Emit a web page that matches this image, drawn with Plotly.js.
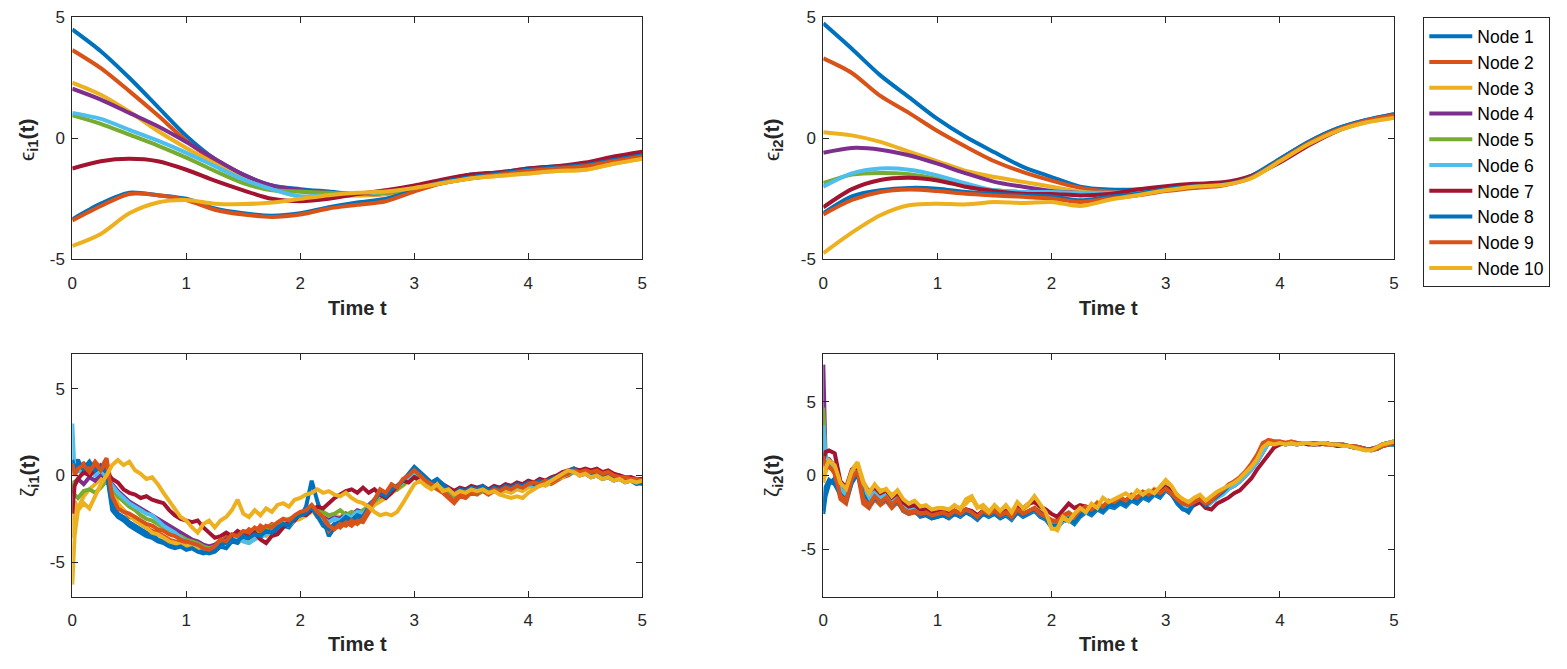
<!DOCTYPE html>
<html>
<head>
<meta charset="utf-8">
<script src="https://cdn.plot.ly/plotly-3.0.1.min.js"></script>
<style>html,body{margin:0;padding:0;background:#fff;}#chart{width:1567px;height:669px;}</style>
</head>
<body>
<div id="chart"></div>
<script>
// ---------------- data ----------------
const nodeNames = ['Node 1','Node 2','Node 3','Node 4','Node 5','Node 6','Node 7','Node 8','Node 9','Node 10'];
const nodeColors = ['#0072BD','#D95319','#EDB120','#7E2F8E','#77AC30','#4DBEEE','#A2142F','#0072BD','#D95319','#EDB120'];

// smooth states, sampled every 0.25
const tSmooth = [0,0.25,0.5,0.75,1,1.25,1.5,1.75,2,2.25,2.5,2.75,3,3.25,3.5,3.75,4,4.25,4.5,4.75,5];

// epsilon_i1(t)
const eps1 = [
 [4.5,3.6,2.5,1.3,0.1,-0.85,-1.5,-1.95,-2.1,-2.2,-2.3,-2.2,-2.0,-1.75,-1.5,-1.4,-1.25,-1.15,-1.1,-0.9,-0.65],
 [3.65,2.9,1.95,0.95,-0.1,-0.95,-1.6,-2.05,-2.2,-2.3,-2.35,-2.3,-2.1,-1.8,-1.6,-1.5,-1.35,-1.25,-1.15,-0.95,-0.75],
 [2.3,1.8,1.1,0.3,-0.4,-1.05,-1.65,-2.1,-2.4,-2.4,-2.35,-2.3,-2.1,-1.85,-1.65,-1.55,-1.45,-1.35,-1.3,-1.05,-0.85],
 [2.05,1.6,1.05,0.5,-0.15,-0.85,-1.5,-1.95,-2.15,-2.25,-2.3,-2.25,-2.05,-1.8,-1.6,-1.5,-1.35,-1.25,-1.15,-0.95,-0.75],
 [0.95,0.6,0.15,-0.3,-0.8,-1.35,-1.85,-2.15,-2.2,-2.25,-2.3,-2.25,-2.1,-1.85,-1.65,-1.5,-1.4,-1.3,-1.2,-1.0,-0.8],
 [1.05,0.8,0.35,-0.1,-0.6,-1.15,-1.7,-2.1,-2.4,-2.35,-2.3,-2.2,-2.0,-1.75,-1.55,-1.45,-1.3,-1.2,-1.15,-0.95,-0.8],
 [-1.25,-0.95,-0.85,-0.95,-1.3,-1.75,-2.15,-2.5,-2.6,-2.5,-2.3,-2.15,-1.95,-1.7,-1.5,-1.4,-1.25,-1.15,-1.0,-0.75,-0.55],
 [-3.35,-2.7,-2.25,-2.35,-2.5,-2.9,-3.1,-3.2,-3.1,-2.85,-2.65,-2.5,-2.15,-1.8,-1.6,-1.45,-1.3,-1.2,-1.1,-0.9,-0.7],
 [-3.4,-2.8,-2.3,-2.35,-2.55,-2.95,-3.15,-3.25,-3.15,-2.9,-2.75,-2.6,-2.2,-1.85,-1.65,-1.5,-1.35,-1.25,-1.15,-0.95,-0.75],
 [-4.45,-3.95,-3.1,-2.65,-2.55,-2.7,-2.72,-2.65,-2.5,-2.35,-2.25,-2.2,-2.05,-1.85,-1.65,-1.55,-1.45,-1.35,-1.3,-1.05,-0.85]
];

// epsilon_i2(t)
const eps2 = [
 [4.75,3.7,2.6,1.7,0.8,0.05,-0.58,-1.18,-1.6,-2.0,-2.12,-2.12,-2.05,-1.95,-1.88,-1.55,-0.85,-0.15,0.4,0.75,1.0],
 [3.3,2.7,1.75,1.05,0.3,-0.35,-0.95,-1.4,-1.75,-2.05,-2.2,-2.22,-2.12,-1.98,-1.92,-1.6,-0.9,-0.2,0.35,0.7,0.95],
 [0.25,0.12,-0.15,-0.55,-0.95,-1.35,-1.6,-1.8,-2.0,-2.2,-2.3,-2.25,-2.1,-1.98,-1.92,-1.65,-0.95,-0.25,0.3,0.65,0.85],
 [-0.6,-0.4,-0.47,-0.7,-1.05,-1.45,-1.8,-2.0,-2.18,-2.26,-2.26,-2.2,-2.08,-1.95,-1.9,-1.6,-0.9,-0.2,0.35,0.7,0.9],
 [-1.85,-1.5,-1.43,-1.48,-1.67,-2.0,-2.15,-2.22,-2.26,-2.28,-2.26,-2.2,-2.08,-1.95,-1.9,-1.6,-0.9,-0.2,0.35,0.7,0.9],
 [-2.0,-1.45,-1.25,-1.3,-1.53,-1.87,-2.15,-2.22,-2.22,-2.25,-2.25,-2.2,-2.08,-1.95,-1.9,-1.6,-0.9,-0.2,0.35,0.7,0.9],
 [-2.85,-2.1,-1.72,-1.63,-1.74,-2.0,-2.18,-2.29,-2.3,-2.36,-2.3,-2.12,-1.98,-1.88,-1.82,-1.55,-1.0,-0.3,0.3,0.7,0.98],
 [-3.1,-2.4,-2.15,-2.05,-2.08,-2.22,-2.29,-2.36,-2.4,-2.56,-2.42,-2.3,-2.1,-1.98,-1.92,-1.6,-0.85,-0.15,0.4,0.75,1.0],
 [-3.15,-2.55,-2.22,-2.12,-2.18,-2.29,-2.36,-2.42,-2.49,-2.63,-2.49,-2.36,-2.18,-2.05,-1.95,-1.62,-0.92,-0.2,0.35,0.72,0.95],
 [-4.75,-3.9,-3.18,-2.77,-2.7,-2.73,-2.63,-2.67,-2.63,-2.8,-2.55,-2.35,-2.15,-2.0,-1.93,-1.65,-0.95,-0.25,0.3,0.65,0.85]
];

// noisy states, sampled at t = 0, 0.02, then every 0.05
const tNoisy = [0,0.02,
 0.05,0.1,0.15,0.2,0.25,0.3,0.35,0.4,0.45,0.5,
 0.55,0.6,0.65,0.7,0.75,0.8,0.85,0.9,0.95,1.0,
 1.05,1.1,1.15,1.2,1.25,1.3,1.35,1.4,1.45,1.5,
 1.55,1.6,1.65,1.7,1.75,1.8,1.85,1.9,1.95,2.0,
 2.05,2.1,2.15,2.2,2.25,2.3,2.35,2.4,2.45,2.5,
 2.55,2.6,2.65,2.7,2.75,2.8,2.85,2.9,2.95,3.0,
 3.05,3.1,3.15,3.2,3.25,3.3,3.35,3.4,3.45,3.5,
 3.55,3.6,3.65,3.7,3.75,3.8,3.85,3.9,3.95,4.0,
 4.05,4.1,4.15,4.2,4.25,4.3,4.35,4.4,4.45,4.5,
 4.55,4.6,4.65,4.7,4.75,4.8,4.85,4.9,4.95,5.0];

// zeta_i1(t)
const zeta1 = [
 [0.8,0.6,
  0.9,0.2,0.5,0.1,0.6,0.4,-1.7,-2.2,-2.4,-2.7,
  -2.9,-3.1,-3.3,-3.4,-3.7,-3.8,-3.9,-4.1,-4.0,-4.2,
  -4.1,-4.3,-4.4,-4.5,-4.4,-4.1,-4.2,-3.8,-3.9,-3.6,
  -3.7,-3.5,-3.6,-3.3,-3.4,-3.1,-2.9,-3.0,-2.6,-2.4,
  -1.8,-0.3,-1.5,-2.6,-3.5,-3.0,-2.9,-2.6,-2.8,-2.4,
  -2.5,-1.9,-1.5,-1.2,-1.3,-0.9,-0.7,-0.4,0.0,0.4,
  0.1,-0.2,-0.5,-0.3,-0.6,-0.9,-1.2,-0.9,-1.0,-0.8,
  -0.9,-0.7,-1.0,-0.8,-0.9,-0.7,-0.8,-0.6,-0.7,-0.5,
  -0.6,-0.4,-0.5,-0.3,-0.2,0.0,0.1,0.3,0.0,0.1,
  -0.1,0.0,-0.2,-0.1,-0.3,-0.2,-0.4,-0.3,-0.5,-0.4],
 [0.9,0.2,
  0.5,0.7,0.3,0.8,0.4,1.0,-0.8,-1.8,-2.0,-2.4,
  -2.5,-2.8,-3.0,-3.2,-3.3,-3.5,-3.7,-3.8,-3.9,-4.0,
  -3.9,-4.1,-4.2,-4.3,-4.2,-3.9,-3.5,-3.6,-3.3,-3.4,
  -3.1,-3.3,-2.9,-3.1,-2.8,-2.9,-2.6,-2.7,-2.5,-2.3,
  -2.1,-1.9,-2.4,-2.6,-3.2,-2.8,-3.0,-2.7,-2.9,-2.6,
  -2.7,-2.2,-1.6,-0.9,-1.1,-0.6,-0.8,-0.3,-0.1,0.2,
  -0.1,-0.4,-0.6,-0.8,-1.0,-1.3,-1.6,-1.2,-1.3,-1.0,
  -1.1,-0.9,-1.1,-0.9,-1.0,-0.8,-0.9,-0.7,-0.8,-0.6,
  -0.5,-0.6,-0.4,-0.5,-0.3,-0.1,0.0,0.2,0.1,0.3,
  0.1,0.2,0.0,0.1,-0.1,0.0,-0.2,-0.1,-0.3,-0.2],
 [-3.6,-1.5,
  -1.9,-1.2,-0.8,-0.5,-0.2,0.2,-0.9,-1.6,-2.0,-2.3,
  -2.6,-2.8,-3.0,-3.3,-3.4,-3.6,-3.8,-3.9,-4.0,-4.1,
  -4.0,-4.2,-4.1,-4.3,-4.0,-3.7,-3.8,-3.5,-3.7,-3.8,
  -3.9,-3.6,-3.4,-3.5,-3.2,-3.0,-2.8,-2.9,-2.6,-2.5,
  -2.3,-2.1,-2.0,-2.3,-2.5,-2.3,-2.4,-2.2,-2.5,-2.3,
  -2.2,-2.0,-1.7,-1.5,-1.3,-1.0,-0.8,-0.6,-0.3,0.0,
  -0.2,-0.4,-0.6,-0.5,-0.8,-1.0,-1.1,-0.9,-1.0,-0.8,
  -0.9,-0.8,-0.9,-0.8,-1.0,-0.9,-1.0,-0.8,-0.9,-0.7,
  -0.7,-0.5,-0.6,-0.4,-0.2,-0.1,0.1,0.3,0.1,0.2,
  0.0,0.1,-0.1,0.0,-0.2,-0.1,-0.3,-0.2,-0.4,-0.3],
 [-1.0,-0.4,
  -0.2,-0.5,-0.1,-0.3,0.1,-0.2,-0.5,-0.9,-1.2,-1.5,
  -1.7,-1.9,-2.1,-2.3,-2.5,-2.7,-2.9,-3.1,-3.3,-3.5,
  -3.7,-3.8,-4.0,-4.1,-4.0,-3.8,-3.7,-3.5,-3.4,-3.3,
  -3.5,-3.2,-3.3,-3.0,-3.1,-2.8,-2.7,-2.6,-2.4,-2.3,
  -2.1,-2.0,-2.2,-2.4,-2.6,-2.4,-2.5,-2.2,-2.3,-2.0,
  -2.1,-1.7,-1.4,-1.1,-1.2,-0.9,-0.7,-0.5,-0.2,0.1,
  -0.1,-0.3,-0.5,-0.4,-0.7,-0.9,-1.0,-0.8,-0.9,-0.7,
  -0.8,-0.7,-0.9,-0.7,-0.8,-0.6,-0.7,-0.5,-0.6,-0.4,
  -0.5,-0.3,-0.4,-0.2,-0.1,0.1,0.2,0.3,0.2,0.2,
  0.1,0.1,0.0,0.0,-0.1,-0.1,-0.2,-0.2,-0.3,-0.3],
 [-0.3,-1.1,
  -1.3,-0.9,-0.8,-1.0,-0.7,-0.3,-0.8,-1.2,-1.5,-1.8,
  -2.0,-2.3,-2.5,-2.6,-2.8,-3.0,-3.3,-3.4,-3.5,-3.7,
  -3.8,-3.9,-4.1,-4.2,-4.1,-3.9,-3.8,-3.6,-3.5,-3.4,
  -3.5,-3.3,-3.2,-3.1,-2.9,-2.8,-2.7,-2.5,-2.4,-2.2,
  -2.1,-2.0,-1.9,-2.1,-2.3,-2.2,-2.0,-2.3,-2.1,-2.2,
  -2.0,-1.8,-1.5,-1.2,-1.1,-0.9,-0.8,-0.5,-0.3,-0.1,
  -0.3,-0.4,-0.6,-0.7,-0.8,-1.0,-1.2,-1.0,-1.1,-0.9,
  -1.0,-0.9,-0.8,-0.9,-0.8,-0.7,-0.8,-0.6,-0.7,-0.5,
  -0.6,-0.5,-0.4,-0.3,-0.2,0.0,0.1,0.2,0.1,0.2,
  0.0,0.1,-0.1,0.0,-0.2,-0.1,-0.3,-0.2,-0.4,-0.3],
 [3.0,0.1,
  0.3,0.1,0.2,0.0,0.3,-0.1,-0.6,-1.0,-1.3,-1.6,
  -1.8,-2.0,-2.2,-2.3,-2.6,-2.9,-3.1,-3.3,-3.6,-3.8,
  -3.9,-4.0,-4.2,-4.3,-4.2,-4.0,-3.9,-3.7,-3.6,-3.8,
  -3.9,-3.7,-3.5,-3.4,-3.2,-3.0,-2.8,-2.6,-2.5,-2.3,
  -2.2,-2.0,-2.2,-2.5,-2.7,-2.5,-2.6,-2.3,-2.4,-2.1,
  -2.2,-1.8,-1.4,-1.1,-1.0,-0.8,-0.6,-0.4,-0.1,0.2,
  0.0,-0.3,-0.5,-0.4,-0.6,-0.8,-1.0,-0.9,-1.0,-0.9,
  -0.9,-0.8,-0.9,-0.8,-0.9,-0.7,-0.8,-0.6,-0.7,-0.5,
  -0.6,-0.4,-0.5,-0.3,-0.2,0.0,0.1,0.2,0.1,0.2,
  0.0,0.1,-0.1,0.0,-0.2,-0.1,-0.3,-0.3,-0.4,-0.4],
 [-2.2,-0.6,
  -0.2,0.2,0.0,0.3,0.5,0.2,-0.2,-0.4,-0.8,-1.0,
  -1.1,-1.3,-1.2,-1.4,-1.5,-1.6,-2.0,-2.3,-2.5,-2.6,
  -2.7,-2.6,-3.0,-3.3,-3.6,-3.5,-3.3,-3.5,-3.2,-3.4,
  -3.5,-3.3,-3.7,-3.9,-3.5,-3.4,-3.0,-2.7,-2.6,-2.2,
  -2.3,-2.0,-1.8,-1.9,-1.6,-1.3,-1.1,-0.9,-0.8,-1.0,
  -0.7,-1.0,-0.8,-1.1,-1.3,-1.0,-0.6,-0.3,-0.4,-0.1,
  -0.3,-0.2,-0.4,-0.3,-0.5,-0.7,-0.9,-0.7,-0.8,-0.6,
  -0.7,-0.6,-0.8,-0.6,-0.7,-0.5,-0.6,-0.4,-0.5,-0.3,
  -0.4,-0.2,-0.3,-0.1,0.0,0.2,0.3,0.4,0.3,0.4,
  0.3,0.4,0.2,0.3,0.1,0.0,-0.1,-0.1,-0.2,-0.2],
 [0.9,0.3,
  0.7,0.4,0.8,0.3,0.5,0.2,-2.0,-2.4,-2.6,-2.9,
  -3.1,-3.3,-3.5,-3.6,-3.8,-3.9,-4.1,-4.2,-4.1,-4.3,
  -4.2,-4.4,-4.5,-4.4,-4.3,-4.0,-3.9,-3.7,-3.8,-3.5,
  -3.6,-3.4,-3.5,-3.2,-3.3,-3.0,-2.8,-2.9,-2.5,-2.3,
  -2.2,-1.8,-2.3,-2.9,-3.1,-2.8,-2.7,-2.4,-2.6,-2.3,
  -2.4,-1.8,-1.4,-1.0,-1.2,-0.8,-0.6,-0.3,0.1,0.5,
  0.2,-0.1,-0.4,-0.2,-0.5,-0.8,-1.1,-0.8,-0.9,-0.7,
  -0.8,-0.6,-0.9,-0.7,-0.8,-0.6,-0.7,-0.5,-0.6,-0.4,
  -0.5,-0.3,-0.4,-0.2,-0.1,0.1,0.2,0.4,0.1,0.2,
  0.0,0.1,-0.1,0.0,-0.2,-0.1,-0.3,-0.2,-0.4,-0.5],
 [0.7,0.0,
  0.4,0.6,0.2,0.7,0.3,0.8,-1.2,-1.9,-2.1,-2.2,
  -2.4,-2.6,-2.8,-2.9,-3.1,-3.2,-3.4,-3.5,-3.7,-3.8,
  -3.9,-4.0,-4.2,-4.3,-4.1,-3.7,-3.8,-3.4,-3.5,-3.2,
  -3.3,-3.0,-3.2,-2.9,-3.0,-2.7,-2.5,-2.6,-2.3,-2.1,
  -2.0,-1.7,-2.1,-2.4,-2.9,-3.1,-2.8,-2.9,-2.6,-2.8,
  -2.5,-2.0,-1.4,-0.8,-1.0,-0.5,-0.7,-0.2,0.0,0.3,
  0.0,-0.3,-0.5,-0.7,-0.9,-1.2,-1.5,-1.1,-1.2,-0.9,
  -1.0,-0.8,-1.0,-0.8,-0.9,-0.7,-0.8,-0.6,-0.7,-0.5,
  -0.4,-0.5,-0.3,-0.4,-0.2,0.0,0.1,0.3,0.2,0.3,
  0.2,0.3,0.1,0.2,0.0,-0.1,-0.1,-0.2,-0.2,-0.3],
 [-6.3,-3.5,
  -2.0,-1.6,-1.9,-1.2,-0.5,0.0,0.6,0.9,0.6,0.8,
  0.3,0.1,-0.2,-0.1,-0.5,-1.0,-1.5,-2.0,-2.4,-2.6,
  -3.0,-3.3,-2.8,-2.6,-3.0,-2.6,-2.4,-2.0,-1.4,-2.2,
  -2.4,-2.0,-2.3,-1.9,-2.1,-1.7,-1.6,-1.8,-1.4,-1.3,
  -1.1,-1.0,-0.8,-1.0,-0.9,-1.1,-1.2,-1.0,-1.3,-1.5,
  -1.6,-1.8,-2.1,-2.3,-2.2,-2.3,-2.1,-1.6,-1.0,-0.5,
  -0.3,-0.6,-0.8,-0.5,-0.9,-0.8,-1.1,-0.9,-1.0,-0.8,
  -0.9,-0.8,-1.0,-0.9,-1.1,-1.2,-1.3,-1.2,-1.3,-1.0,
  -0.8,-0.6,-0.5,-0.3,-0.1,0.1,0.3,0.2,0.0,0.1,
  -0.1,0.0,-0.2,-0.1,-0.3,-0.2,-0.4,-0.3,-0.4,-0.3]
];

// zeta_i2(t)
const zeta2 = [
 [-2.6,-1.4,
  -0.6,-0.2,-1.2,-1.6,-0.3,0.2,-1.2,-1.9,-1.4,-1.7,
  -1.5,-2.1,-1.6,-2.4,-2.6,-2.4,-2.8,-2.7,-2.9,-2.8,
  -2.7,-2.9,-2.6,-2.8,-2.5,-2.7,-3.0,-2.6,-2.8,-2.6,
  -2.9,-2.7,-3.0,-2.5,-2.8,-2.6,-2.4,-2.8,-3.0,-3.5,
  -3.5,-3.1,-3.0,-3.3,-2.8,-2.5,-2.7,-2.3,-2.5,-2.1,
  -2.2,-1.9,-2.1,-1.7,-1.9,-1.5,-1.7,-1.3,-1.5,-1.0,
  -1.3,-1.8,-2.2,-2.5,-1.9,-1.7,-2.1,-1.8,-1.5,-1.2,
  -0.8,-0.5,-0.3,0.2,0.6,1.2,2.0,2.3,2.2,2.2,
  2.2,2.2,2.1,2.2,2.2,2.1,2.2,2.2,2.1,2.1,
  2.0,2.0,1.9,1.9,1.8,1.8,1.8,2.0,2.1,2.1],
 [1.2,0.7,
  0.8,0.1,-1.6,-1.9,-0.4,0.2,-1.9,-2.2,-1.6,-2.0,
  -1.7,-2.2,-1.8,-2.4,-2.6,-2.5,-2.7,-2.6,-2.8,-2.7,
  -2.6,-2.8,-2.5,-2.7,-2.4,-2.6,-2.9,-2.5,-2.7,-2.5,
  -2.8,-2.6,-2.9,-2.4,-2.7,-2.5,-2.3,-2.7,-2.9,-3.2,
  -3.0,-2.8,-2.6,-2.9,-2.4,-2.2,-2.4,-2.0,-2.2,-1.8,
  -1.9,-1.6,-1.8,-1.4,-1.6,-1.2,-1.4,-1.0,-1.2,-0.9,
  -1.2,-1.7,-2.0,-2.2,-1.9,-1.7,-2.1,-1.8,-1.4,-1.1,
  -0.7,-0.5,-0.2,0.2,0.7,1.3,2.1,2.4,2.3,2.3,
  2.2,2.3,2.2,2.2,2.2,2.2,2.2,2.1,2.1,2.1,
  2.1,2.0,2.0,1.9,1.8,1.7,1.8,2.0,2.1,2.2],
 [-0.5,0.2,
  0.9,0.8,-0.4,-0.8,0.4,0.9,-0.4,-1.1,-0.7,-1.0,
  -1.0,-1.3,-1.1,-1.7,-2.0,-1.8,-2.2,-2.1,-2.4,-2.3,
  -2.3,-2.4,-2.1,-2.2,-1.9,-1.5,-2.2,-2.0,-2.4,-2.1,
  -2.5,-2.2,-2.6,-2.0,-2.3,-2.0,-1.5,-2.3,-2.6,-3.5,
  -3.7,-2.9,-2.7,-3.0,-2.4,-2.1,-2.3,-1.8,-2.1,-1.7,
  -1.8,-1.5,-1.7,-1.3,-1.5,-1.1,-1.3,-0.9,-1.1,-0.4,
  -0.8,-1.4,-1.7,-1.9,-1.6,-1.4,-1.8,-1.5,-1.2,-1.0,
  -0.8,-0.6,-0.3,0.1,0.5,1.0,1.8,2.2,2.1,2.2,
  2.1,2.2,2.1,2.2,2.2,2.1,2.2,2.2,2.1,2.1,
  2.1,2.0,1.9,1.8,1.7,1.8,1.9,2.1,2.2,2.3],
 [7.5,1.2,
  1.1,0.6,-0.7,-1.1,0.2,0.4,-0.8,-1.4,-1.0,-1.4,
  -1.2,-1.6,-1.3,-2.0,-2.2,-2.1,-2.4,-2.4,-2.6,-2.6,
  -2.5,-2.7,-2.4,-2.6,-2.3,-2.4,-2.7,-2.4,-2.6,-2.3,
  -2.6,-2.5,-2.7,-2.3,-2.6,-2.4,-2.2,-2.5,-2.7,-3.2,
  -3.3,-2.9,-2.7,-3.0,-2.5,-2.3,-2.4,-2.1,-2.2,-1.9,
  -2.0,-1.7,-1.8,-1.5,-1.6,-1.3,-1.4,-1.1,-1.2,-0.8,
  -1.1,-1.6,-1.9,-2.0,-1.8,-1.6,-1.9,-1.7,-1.4,-1.2,
  -0.9,-0.7,-0.4,0.0,0.4,0.9,1.6,2.2,2.2,2.2,
  2.1,2.2,2.1,2.2,2.2,2.1,2.2,2.2,2.1,2.1,
  2.1,2.0,2.0,1.9,1.8,1.8,1.9,2.1,2.2,2.3],
 [4.6,1.0,
  1.0,0.4,-1.0,-1.2,0.0,0.4,-0.9,-1.5,-1.1,-1.5,
  -1.3,-1.8,-1.4,-2.1,-2.3,-2.2,-2.5,-2.5,-2.7,-2.6,
  -2.6,-2.7,-2.5,-2.6,-2.4,-2.5,-2.8,-2.5,-2.6,-2.4,
  -2.7,-2.5,-2.8,-2.4,-2.6,-2.4,-2.3,-2.6,-2.8,-3.3,
  -3.4,-3.0,-2.8,-3.1,-2.6,-2.3,-2.5,-2.1,-2.3,-1.9,
  -2.0,-1.7,-1.9,-1.5,-1.7,-1.3,-1.5,-1.1,-1.3,-0.8,
  -1.1,-1.6,-1.9,-2.1,-1.8,-1.6,-2.0,-1.7,-1.4,-1.2,
  -0.9,-0.6,-0.3,0.1,0.5,1.0,1.7,2.2,2.1,2.2,
  2.1,2.2,2.1,2.2,2.2,2.1,2.2,2.2,2.1,2.1,
  2.1,2.0,2.0,1.9,1.8,1.8,1.9,2.1,2.2,2.3],
 [3.4,1.3,
  0.9,0.5,-0.9,-1.3,0.1,0.5,-1.0,-1.6,-1.1,-1.5,
  -1.3,-1.8,-1.5,-2.2,-2.4,-2.2,-2.6,-2.5,-2.8,-2.7,
  -2.6,-2.8,-2.5,-2.7,-2.4,-2.6,-2.9,-2.5,-2.7,-2.4,
  -2.8,-2.6,-2.9,-2.4,-2.7,-2.5,-2.3,-2.7,-2.9,-3.4,
  -3.5,-3.1,-2.9,-3.2,-2.7,-2.4,-2.6,-2.2,-2.4,-2.0,
  -2.1,-1.8,-2.0,-1.6,-1.8,-1.4,-1.6,-1.2,-1.4,-0.9,
  -1.2,-1.7,-2.0,-2.2,-1.9,-1.7,-2.1,-1.8,-1.5,-1.3,
  -0.9,-0.7,-0.4,0.0,0.4,0.9,1.6,2.2,2.2,2.2,
  2.1,2.2,2.1,2.2,2.2,2.1,2.2,2.2,2.1,2.1,
  2.1,2.0,2.0,1.9,1.8,1.8,1.9,2.1,2.2,2.3],
 [1.0,1.6,
  1.7,1.5,-0.4,-0.8,0.4,0.6,-0.6,-1.1,-0.8,-1.2,
  -1.0,-1.5,-1.2,-1.8,-2.1,-2.0,-2.3,-2.3,-2.5,-2.5,
  -2.4,-2.6,-2.4,-2.5,-2.3,-2.4,-2.7,-2.4,-2.6,-2.4,
  -2.7,-2.4,-2.5,-2.0,-2.2,-1.9,-1.8,-2.1,-2.3,-2.6,
  -2.8,-2.3,-1.9,-2.2,-2.0,-2.1,-2.3,-1.9,-2.1,-1.8,
  -1.9,-1.6,-1.8,-1.4,-1.6,-1.2,-1.4,-1.0,-1.2,-0.8,
  -1.0,-1.3,-1.7,-1.9,-2.0,-1.8,-2.2,-2.3,-1.9,-1.7,
  -1.5,-1.2,-1.0,-0.6,-0.2,0.4,0.9,1.5,1.9,2.1,
  2.2,2.2,2.2,2.2,2.1,2.1,2.1,2.2,2.1,2.0,
  2.0,2.0,1.9,1.9,1.8,1.8,1.9,2.1,2.2,2.2],
 [-2.4,-0.8,
  -0.3,-0.6,-1.3,-1.7,-0.5,0.1,-1.3,-2.0,-1.5,-1.8,
  -1.6,-2.0,-1.7,-2.3,-2.5,-2.4,-2.7,-2.6,-2.9,-2.8,
  -2.7,-2.8,-2.6,-2.7,-2.5,-2.6,-2.9,-2.6,-2.7,-2.5,
  -2.8,-2.6,-2.9,-2.5,-2.7,-2.5,-2.3,-2.7,-2.9,-3.4,
  -3.4,-3.0,-2.9,-3.2,-2.7,-2.4,-2.6,-2.2,-2.4,-2.0,
  -2.1,-1.8,-2.0,-1.6,-1.8,-1.4,-1.6,-1.2,-1.4,-0.9,
  -1.2,-1.9,-2.3,-2.4,-1.8,-1.6,-2.0,-1.7,-1.4,-1.1,
  -0.7,-0.4,-0.2,0.2,0.7,1.3,2.1,2.3,2.2,2.2,
  2.2,2.2,2.2,2.2,2.2,2.1,2.2,2.2,2.1,2.1,
  2.0,2.0,1.9,1.9,1.8,1.8,1.8,2.0,2.1,2.1],
 [1.3,0.5,
  0.6,0.2,-1.4,-1.7,-0.2,0.3,-1.6,-2.0,-1.4,-1.8,
  -1.5,-2.0,-1.6,-2.3,-2.5,-2.4,-2.6,-2.5,-2.7,-2.6,
  -2.5,-2.7,-2.4,-2.6,-2.3,-2.5,-2.8,-2.4,-2.6,-2.4,
  -2.7,-2.5,-2.8,-2.3,-2.6,-2.4,-2.2,-2.6,-2.8,-3.0,
  -3.1,-2.7,-2.5,-2.8,-2.3,-2.1,-2.3,-1.9,-2.1,-1.7,
  -1.8,-1.5,-1.7,-1.3,-1.5,-1.1,-1.3,-1.0,-1.2,-0.9,
  -1.2,-1.6,-1.9,-2.0,-1.8,-1.6,-1.9,-1.7,-1.3,-1.0,
  -0.6,-0.4,-0.1,0.3,0.8,1.4,2.2,2.4,2.3,2.3,
  2.2,2.3,2.2,2.2,2.2,2.2,2.2,2.1,2.1,2.1,
  2.1,2.0,2.0,1.9,1.8,1.7,1.8,2.0,2.1,2.2],
 [-0.3,0.5,
  1.0,0.7,-0.5,-0.9,0.3,0.8,-0.5,-1.2,-0.6,-1.1,
  -0.9,-1.4,-1.0,-1.6,-1.9,-1.7,-2.1,-2.0,-2.3,-2.2,
  -2.2,-2.3,-2.0,-2.3,-1.6,-1.4,-2.1,-2.2,-2.5,-2.0,
  -2.4,-2.0,-2.5,-1.8,-2.2,-1.9,-1.4,-2.0,-2.5,-3.6,
  -3.6,-2.8,-3.1,-2.6,-2.2,-2.5,-1.9,-2.2,-1.5,-1.8,
  -1.6,-1.4,-1.2,-1.5,-1.0,-1.3,-1.0,-1.2,-0.7,-0.3,
  -0.7,-1.3,-1.6,-1.8,-1.5,-1.3,-1.7,-1.4,-1.1,-0.9,
  -0.7,-0.5,-0.2,0.2,0.6,1.1,1.9,2.2,2.1,2.2,
  2.1,2.2,2.1,2.2,2.2,2.1,2.2,2.2,2.1,2.1,
  2.0,2.0,1.9,1.8,1.7,1.7,1.9,2.1,2.2,2.3]
];

const yTickVals = [-5, 0, 5];
const yTickText = ['-5', '0', '5'];
const xTickVals = [0, 1, 2, 3, 4, 5];
const xTickText = ['0', '1', '2', '3', '4', '5'];

// ---------------- build ----------------
const W = 1567, H = 669;
const fontFam = 'Liberation Sans, Arial, Helvetica, sans-serif';
const axisCol = '#262626';

const panels = [
  {x: tSmooth, data: eps1, xa: 'x', ya: 'y', spline: true, legend: true},
  {x: tSmooth, data: eps2, xa: 'x2', ya: 'y2', spline: true, legend: false},
  {x: tNoisy, data: zeta1, xa: 'x3', ya: 'y3', spline: false, legend: false},
  {x: tNoisy, data: zeta2, xa: 'x4', ya: 'y4', spline: false, legend: false}
];

const traces = [];
panels.forEach(p => {
  p.data.forEach((vals, i) => {
    traces.push({
      type: 'scatter', mode: 'lines',
      x: p.x, y: vals, xaxis: p.xa, yaxis: p.ya,
      name: nodeNames[i],
      showlegend: p.legend,
      line: p.spline ? {color: nodeColors[i], width: 4, shape: 'spline', smoothing: 0.8}
                     : {color: nodeColors[i], width: 4},
      hoverinfo: 'skip'
    });
  });
});

function px2fx(px) { return px / W; }
function py2fy(py) { return 1 - py / H; }

const colL = [72.3, 642.3], colR = [823.3, 1394];
const rowT = [17.3, 259.3], rowB = [354.3, 596.7];

function xaxisDef(dom, anchor) {
  return {
    domain: [px2fx(dom[0]), px2fx(dom[1])], anchor: anchor,
    range: [0, 5], tickvals: xTickVals, ticktext: xTickText,
    showline: true, mirror: 'ticks', linecolor: axisCol, linewidth: 1,
    ticks: 'inside', ticklen: 6, tickcolor: axisCol, tickwidth: 1,
    ticklabelstandoff: 8,
    showgrid: false, zeroline: false,
    tickfont: {family: fontFam, size: 17, color: axisCol},
    fixedrange: true
  };
}
function yaxisDef(dom, anchor, range) {
  return {
    domain: [py2fy(dom[1]), py2fy(dom[0])], anchor: anchor,
    range: range, tickvals: yTickVals, ticktext: yTickText,
    showline: true, mirror: 'ticks', linecolor: axisCol, linewidth: 1,
    ticks: 'inside', ticklen: 6, tickcolor: axisCol, tickwidth: 1,
    ticklabelstandoff: 3,
    showgrid: false, zeroline: false,
    tickfont: {family: fontFam, size: 17, color: axisCol},
    fixedrange: true
  };
}

const titleFont = {family: fontFam, size: 20, color: axisCol};
function ann(text, xpx, ypx, angle, size) {
  return {text: text, xref: 'paper', yref: 'paper', x: px2fx(xpx), y: py2fy(ypx),
          xanchor: 'center', yanchor: 'middle', showarrow: false, textangle: angle || 0,
          font: {family: fontFam, size: size || 20, color: axisCol}};
}

const layout = {
  width: W, height: H,
  margin: {l: 0, r: 0, t: 0, b: 0},
  paper_bgcolor: '#ffffff', plot_bgcolor: '#ffffff',
  showlegend: true,
  xaxis: xaxisDef(colL, 'y'),
  yaxis: yaxisDef(rowT, 'x', [-5, 5]),
  xaxis2: xaxisDef(colR, 'y2'),
  yaxis2: yaxisDef(rowT, 'x2', [-5, 5]),
  xaxis3: xaxisDef(colL, 'y3'),
  yaxis3: yaxisDef(rowB, 'x3', [-7, 7]),
  xaxis4: xaxisDef(colR, 'y4'),
  yaxis4: yaxisDef(rowB, 'x4', [-8.2, 8.2]),
  legend: {
    x: px2fx(1423.3), y: py2fy(17.3), xanchor: 'left', yanchor: 'top',
    bordercolor: axisCol, borderwidth: 1, bgcolor: '#ffffff',
    font: {family: fontFam, size: 17.5, color: '#000000'},
    tracegroupgap: 0, itemwidth: 43
  },
  annotations: [
    ann('<b>Time t</b>', (colL[0] + colL[1]) / 2, 308),
    ann('<b>Time t</b>', (colR[0] + colR[1]) / 2, 308),
    ann('<b>Time t</b>', (colL[0] + colL[1]) / 2, 644),
    ann('<b>Time t</b>', (colR[0] + colR[1]) / 2, 644),
    ann('ϵ<sub><b>i1</b></sub><b>(t)</b>', 28, 140, -90, 21),
    ann('ϵ<sub><b>i2</b></sub><b>(t)</b>', 773, 140, -90, 21),
    ann('ζ<sub><b>i1</b></sub><b>(t)</b>', 29, 476, -90, 21),
    ann('ζ<sub><b>i2</b></sub><b>(t)</b>', 773, 476, -90, 21)
  ]
};

Plotly.newPlot('chart', traces, layout, {staticPlot: true, displayModeBar: false});
</script>
</body>
</html>
